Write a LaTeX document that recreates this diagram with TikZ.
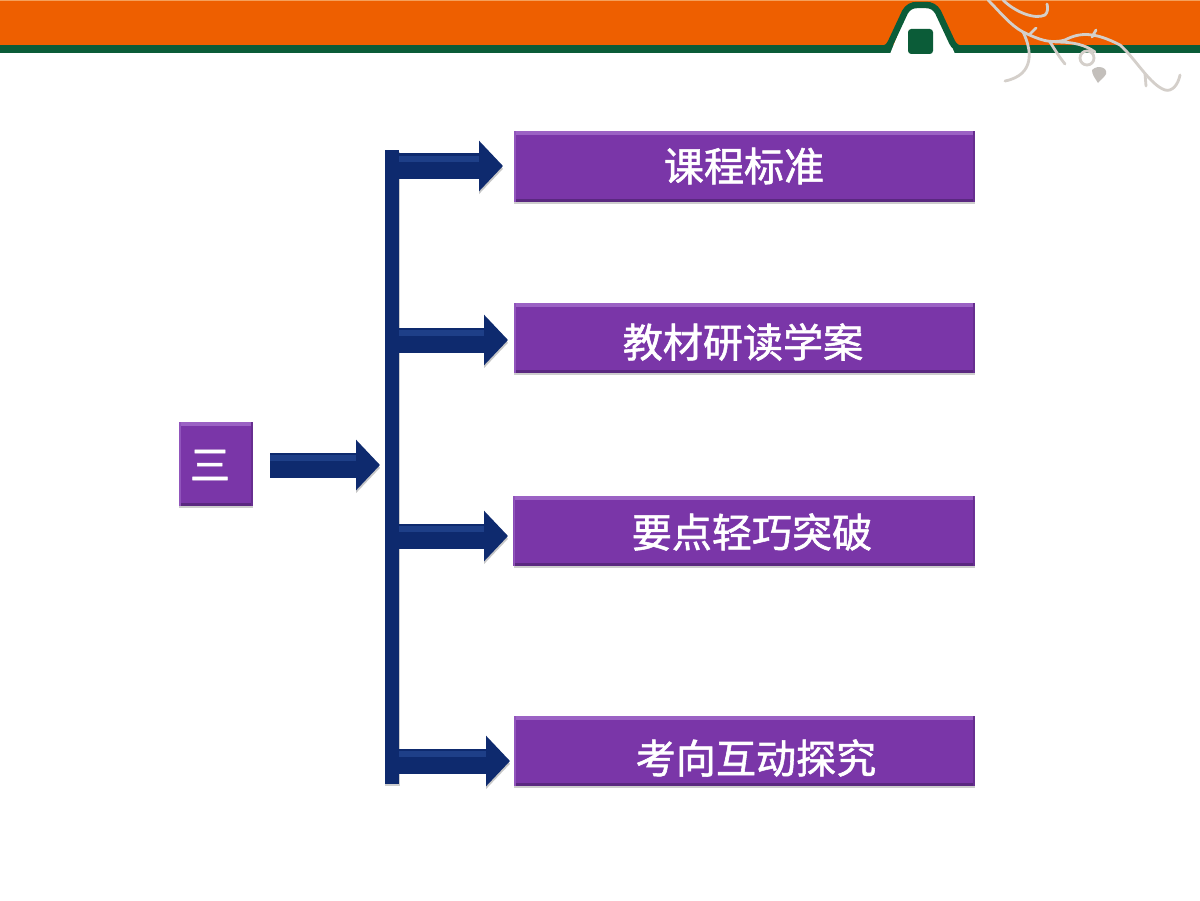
\documentclass[tikz,border=0pt]{standalone}
\usepackage{fontspec}
\setmainfont{Noto Sans CJK SC}
\newfontfamily\labelfont[FakeBold=1.4]{Noto Sans CJK SC}
\usepackage{xcolor}
\usepackage{tikz}
\usetikzlibrary{arrows.meta}
\usetikzlibrary{shadows}
\definecolor{band_orange}{HTML}{EE5F00}
\definecolor{band_top}{HTML}{F5A05A}
\definecolor{band_green}{HTML}{0B5C38}
\definecolor{box_purple}{HTML}{7A36A8}
\definecolor{box_light}{HTML}{9B62C4}
\definecolor{box_dark}{HTML}{5A2880}
\definecolor{bar_navy}{HTML}{0E2A6E}
\definecolor{bar_light}{HTML}{1E3F88}
\definecolor{twig_grey}{HTML}{D4CFCA}
\tikzset{
    soft_shadow/.style = {drop shadow={shadow xshift=0.01cm, shadow yshift=-0.06cm, opacity=0.28, fill=black!70}},
    box_node/.style = {rectangle, inner sep=0pt, fill=box_purple, soft_shadow,
        path picture={
            \fill[box_light] (path picture bounding box.north west) rectangle ([yshift=-0.1cm]path picture bounding box.north east);
            \fill[box_dark] (path picture bounding box.south west) rectangle ([yshift=0.07cm]path picture bounding box.south east);
            \fill[box_light!70!box_purple] (path picture bounding box.north west) rectangle ([xshift=0.05cm]path picture bounding box.south west);
            \fill[box_dark!60!box_purple] (path picture bounding box.north east) rectangle ([xshift=-0.05cm]path picture bounding box.south east);
        }},
    wide_box/.style = {box_node, minimum width=11.525cm, minimum height=1.75cm},
    label_node/.style = {inner sep=0pt, white, font=\fontsize{28.5}{28.5}\labelfont},
    bar_node/.style = {rectangle, inner sep=0pt, fill=bar_navy, minimum width=0.36cm, minimum height=15.85cm, soft_shadow},
    block_arrow/.style = {draw=bar_navy, line width=0.625cm, -{Triangle[length=0.6cm, width=1.23cm]},
        preaction={draw=black!22, transform canvas={yshift=-0.07cm}},
        postaction={draw=bar_light, line width=0.16cm, -, shorten >=0.6cm, transform canvas={yshift=0.18cm}}},
    twig/.style = {draw=twig_grey, line width=0.07cm, line cap=round}
}
\begin{document}
\begin{tikzpicture}[x=0.025cm, y=-0.025cm]
    \useasboundingbox [fill=white] (0,0) rectangle (1200,900);

    \fill [band_orange] (0,0) rectangle (1200,46);
    \fill [band_top] (0,0) rectangle (1200,1.5);
    \fill [band_green] (0,45) rectangle (1200,53);
    \fill [white] (890,54) -- (906,14) .. controls (909,8) and (913,5) .. (918,5) -- (926,5) .. controls (931,5) and (935,8) .. (938,14) -- (955,54) -- cycle;
    \draw [band_green, line width=0.16cm, line cap=round] (870,49) -- (880,49) .. controls (887,49) and (889,46) .. (891,42) -- (905,12) .. controls (908,7) and (912,5) .. (917,5) -- (926,5) .. controls (931,5) and (935,7) .. (938,12) -- (952,42) .. controls (954,46) and (957,49) .. (964,49) -- (975,49);
    \fill [band_green, rounded corners=0.08cm] (908,29) rectangle (933,54);

    \draw [twig] (988,0) .. controls (1000,12) and (1010,25) .. (1023,32) .. controls (1040,40) and (1050,44) .. (1065,40) .. controls (1080,32) and (1095,32) .. (1120,45) .. controls (1135,58) and (1150,85) .. (1165,90) .. controls (1172,92) and (1178,85) .. (1180,75);
    \draw [twig] (1023,32) .. controls (1032,50) and (1035,75) .. (1005,81);
    \draw [twig] (1003,0) .. controls (1015,12) and (1035,20) .. (1045,15) .. controls (1048,12) and (1048,8) .. (1047,4);
    \draw [twig] (1050,42) .. controls (1055,50) and (1060,58) .. (1065,64);
    \draw [twig] (1055,42) .. controls (1075,42) and (1085,45) .. (1095,52);
    \draw [twig] (1087,58) circle (7);
    \draw [twig] (1030,34) -- (1036,28);
    \draw [twig] (1092,37) -- (1096,30);
    \draw [twig] (1145,74) -- (1146,86);
    \fill [twig_grey!80!gray] (1092,70) .. controls (1098,64) and (1108,68) .. (1106,74) .. controls (1104,78) and (1100,80) .. (1098,83) .. controls (1095,78) and (1092,75) .. (1092,70) -- cycle;

    \node (bar) [bar_node] at (392,467) {};

    \node (box1) [wide_box] at (744.5,166.5) {};
    \node (box2) [wide_box] at (744.5,338) {};
    \node (box3) [wide_box] at (744,531) {};
    \node (box4) [wide_box] at (744.5,750.5) {};
    \node (num) [box_node, minimum width=1.85cm, minimum height=2.1cm] at (216,464) {};

    \node (txt1) [label_node] at (744,166) {课程标准};
    \node (txt2) [label_node] at (743,342) {教材研读学案};
    \node (txt3) [label_node] at (752,532) {要点轻巧突破};
    \node (txt4) [label_node] at (756,758) {考向互动探究};
    \node (txt0) [label_node] at (210,465) {三};

    \coordinate (tip1) at (503,166);
    \coordinate (tip2) at (508,340);
    \coordinate (tip3) at (508,536);
    \coordinate (tip4) at (510,761);
    \coordinate (tail0) at (270,465);
    \coordinate (tip0) at (380,465);

    \draw [block_arrow] (bar.east |- tip1) -- (tip1);
    \draw [block_arrow] (bar.east |- tip2) -- (tip2);
    \draw [block_arrow] (bar.east |- tip3) -- (tip3);
    \draw [block_arrow] (bar.east |- tip4) -- (tip4);
    \draw [block_arrow] (tail0) -- (tip0);
\end{tikzpicture}
\end{document}
